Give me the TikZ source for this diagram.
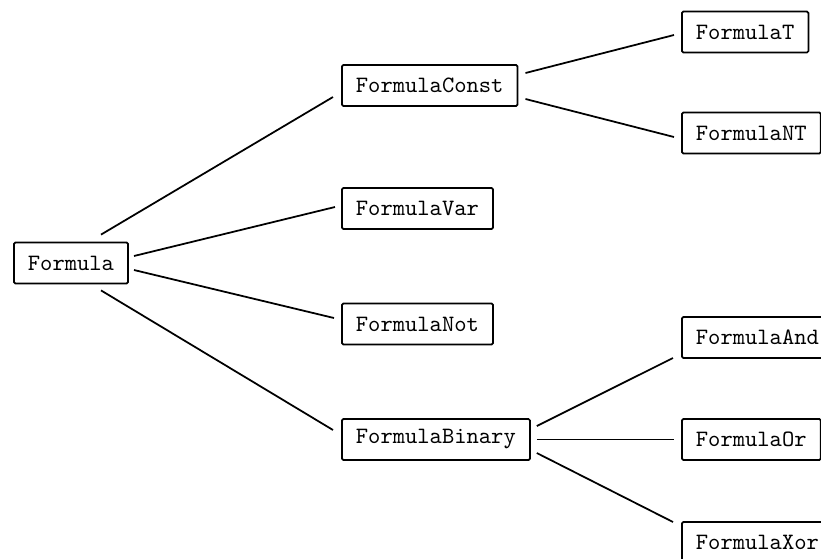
\documentclass[tikz,border=0pt]{standalone}
\usepackage{tikz}

\begin{document}
\begin{tikzpicture}[
        x=0.4268pt, y=-0.4268pt,
        every node/.style={font=\ttfamily},
        cls/.style={draw, line width=0.75pt, rounded corners=0.6pt, anchor=west,
            minimum height=17.5pt, inner xsep=6pt, inner ysep=0pt},
        edge/.style={line width=0.75pt},
    ]
    \useasboundingbox (0,0) rectangle (821,558);
    \clip (0,0) rectangle (821,558);

    %% ===== Root =====
    \node[cls] (formula) at (13,263) {Formula};

    %% ===== Second level =====
    \node[cls] (const)  at (341,85.5)  {FormulaConst};
    \node[cls] (var)    at (341,208.5) {FormulaVar};
    \node[cls] (not)    at (341,324)   {FormulaNot};
    \node[cls] (binary) at (341,439.5) {FormulaBinary};

    %% ===== Leaves =====
    \node[cls] (ft)  at (681,32)    {FormulaT};
    \node[cls] (fnt) at (681,133)   {FormulaNT};
    \node[cls] (fand) at (681,337.5) {FormulaAnd};
    \node[cls] (for)  at (681,439.5) {FormulaOr};
    \node[cls] (fxor) at (681,542.5) {FormulaXor};

    %% Edges from the root
    \draw[edge] ([shift={(-28,-7)}]formula.north east) -- ([shift={(-8,11.5)}]const.west);
    \draw[edge] ([shift={(5,-7)}]formula.east) -- ([shift={(-6,-1.5)}]var.west);
    \draw[edge] ([shift={(5,7)}]formula.east) -- ([shift={(-7,-6)}]not.west);
    \draw[edge] ([shift={(-28,6)}]formula.south east) -- ([shift={(-8,-9.5)}]binary.west);

    %% Edges from FormulaConst
    \draw[edge] ([shift={(7,-12.5)}]const.east) -- ([shift={(-7,3)}]ft.west);
    \draw[edge] ([shift={(7,13.5)}]const.east) -- ([shift={(-7,4)}]fnt.west);

    %% Edges from FormulaBinary
    \draw[edge] ([shift={(6,-13.5)}]binary.east) -- ([shift={(-8,20.5)}]fand.west);
    \draw[edge] ([shift={(6,0)}]binary.east) -- ([shift={(-7,0)}]for.west);
    \draw[edge] ([shift={(6,13.5)}]binary.east) -- ([shift={(-8,-20.5)}]fxor.west);

\end{tikzpicture}
\end{document}
